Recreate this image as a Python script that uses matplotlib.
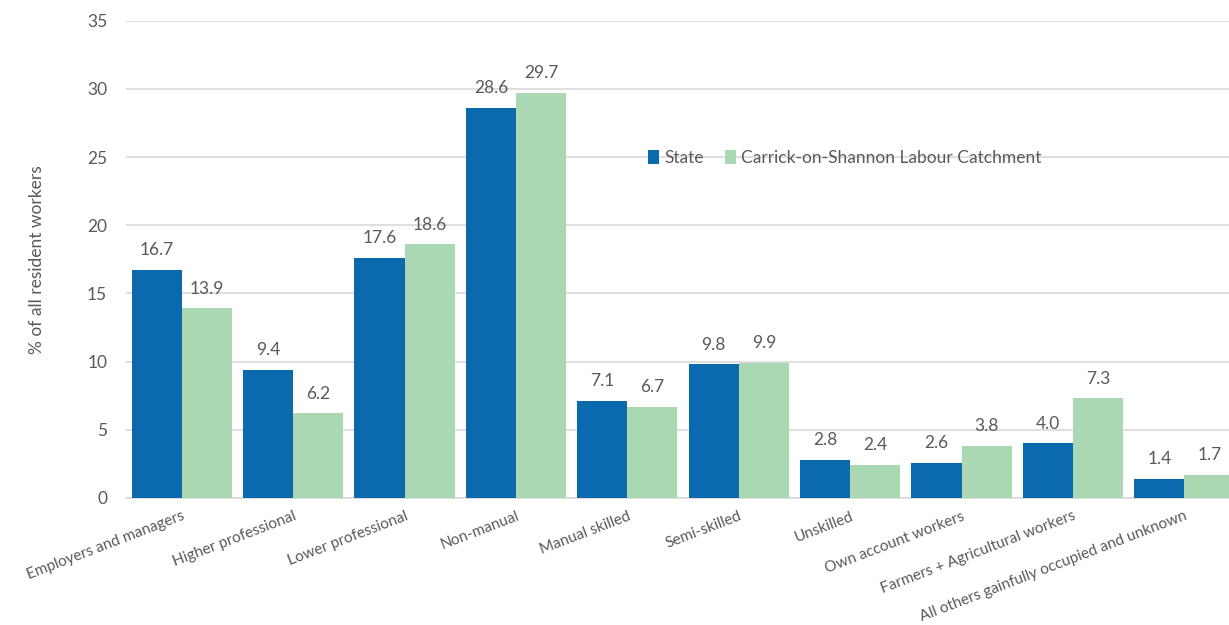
import numpy as np
import matplotlib.pyplot as plt

plt.rcParams['font.family'] = ['Lato', 'DejaVu Sans']

categorias = ['Employers and managers', 'Higher professional', 'Lower professional',
              'Non-manual', 'Manual skilled', 'Semi-skilled', 'Unskilled',
              'Own account workers', 'Farmers + Agricultural workers',
              'All others gainfully occupied and unknown']
state = [16.7, 9.4, 17.6, 28.6, 7.1, 9.8, 2.8, 2.6, 4.0, 1.4]
carrick = [13.9, 6.2, 18.6, 29.7, 6.7, 9.9, 2.4, 3.8, 7.3, 1.7]

gris = '#595959'
azul = '#0B69AE'
verde = '#A9D8B3'

W, H = 1229, 625
fig = plt.figure(figsize=(W / 100, H / 100), dpi=100)
# area de trazado en pixeles: x 126..1229, y 20.7..498
ax = fig.add_axes([126 / W, 1 - 498 / H, 1 - 126 / W, (498 - 20.7) / H])

x = np.arange(len(categorias))
w = 0.45
b1 = ax.bar(x - w / 2, state, w, color=azul, label='State', zorder=3)
b2 = ax.bar(x + w / 2, carrick, w, color=verde,
            label='Carrick-on-Shannon Labour Catchment', zorder=3)

for bars in (b1, b2):
    for bar in bars:
        h = bar.get_height()
        ax.annotate(f'{h:.1f}', (bar.get_x() + bar.get_width() / 2, h),
                    xytext=(0, 8.5), textcoords='offset points',
                    ha='center', va='bottom', fontsize=12.5, color=gris)

ax.set_xlim(-0.5, 9.4)
ax.set_ylim(0, 35)
ax.set_yticks(range(0, 36, 5))
ax.yaxis.grid(True, color='#D9D9D9', linewidth=1.2, zorder=0)
ax.set_axisbelow(True)
for s in ['top', 'right', 'left']:
    ax.spines[s].set_visible(False)
ax.spines['bottom'].set_color('#D9D9D9')
ax.spines['bottom'].set_linewidth(1.2)
ax.tick_params(axis='both', length=0, colors=gris)
ax.tick_params(axis='y', labelsize=12.5, pad=13.5)
ax.set_xticks(x)
ax.set_xticklabels(categorias, rotation=21, ha='right', rotation_mode='anchor',
                   fontsize=11, color=gris)
ax.tick_params(axis='x', pad=8)

ax.set_ylabel('% of all resident workers', fontsize=12.5, color=gris)
ax.yaxis.set_label_coords((45 - 126) / (W - 126), 0.5)

ax.legend(loc='center left', bbox_to_anchor=(648 / W, 1 - 158 / H),
          bbox_transform=fig.transFigure, ncol=2, frameon=False,
          borderpad=0, borderaxespad=0,
          fontsize=12.5, labelcolor=gris, handlelength=0.65, handleheight=0.9,
          handletextpad=0.3, columnspacing=1.2)

plt.savefig('out.png', dpi=100)
